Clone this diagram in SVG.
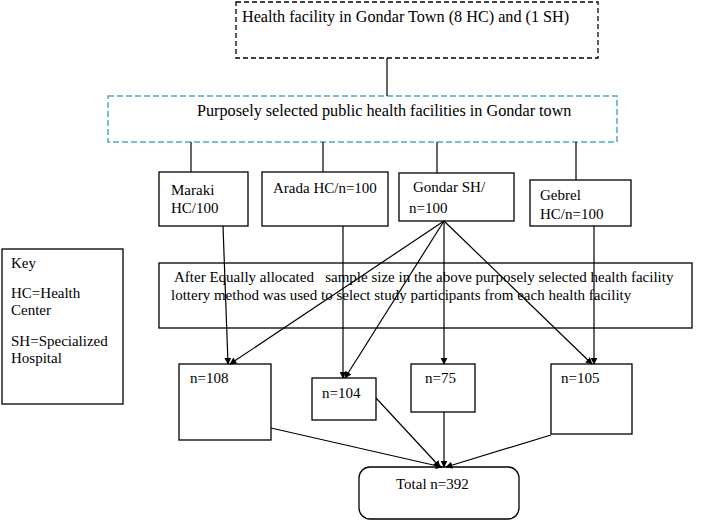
<svg xmlns="http://www.w3.org/2000/svg" width="709" height="520" viewBox="0 0 709 520">
<style>
text{font-family:"Liberation Serif","Times New Roman",serif;font-size:15px;fill:#000}
.big{font-size:16.2px}
.box{fill:#fff;stroke:#000;stroke-width:1.3}
.dash{fill:#fff;stroke:#000;stroke-width:1.3;stroke-dasharray:5,3}
.cyan{fill:#fff;stroke:#4BACC6;stroke-width:1.5;stroke-dasharray:6,3}
.ln{stroke:#000;stroke-width:1.2;fill:none}
.ar{stroke:#000;stroke-width:1.2;fill:none;marker-end:url(#ah)}
</style>
<defs>
<marker id="ah" viewBox="0 0 10 10" refX="9" refY="5" markerWidth="7" markerHeight="7" markerUnits="userSpaceOnUse" orient="auto">
<path d="M0,0 L10,5 L0,10 z" fill="#000"/>
</marker>
</defs>
<rect width="709" height="520" fill="#fff"/>
<g id="top"><rect class="dash" x="236" y="2" width="362" height="56"/><text class="big" x="242" y="22">Health facility in Gondar Town (8 HC) and (1 SH)</text></g>
<g id="purpose"><rect class="cyan" x="108" y="96" width="509" height="46"/><text class="big" x="197" y="116">Purposely selected public health facilities in Gondar town</text></g>
<g id="maraki"><rect class="box" x="159" y="172" width="89" height="54"/><text x="171" y="195">Maraki</text><text x="171" y="213">HC/100</text></g>
<g id="arada"><rect class="box" x="262" y="172" width="126" height="54"/><text x="273" y="193">Arada HC/n=100</text></g>
<g id="gondar"><rect class="box" x="399" y="173" width="115" height="48"/><text x="413" y="192">Gondar SH/</text><text x="409" y="213">n=100</text></g>
<g id="gebrel"><rect class="box" x="530" y="180" width="101" height="46"/><text x="540" y="200">Gebrel</text><text x="540" y="219">HC/n=100</text></g>
<g id="key"><rect class="box" x="2" y="249" width="121" height="155"/><text x="11" y="268">Key</text><text x="11" y="298">HC=Health</text><text x="11" y="315">Center</text><text x="11" y="346">SH=Specialized</text><text x="11" y="363">Hospital</text></g>
<g id="alloc"><rect class="box" x="159" y="263" width="533" height="65"/><text x="174" y="282" xml:space="preserve">After Equally allocated   sample size in the above purposely selected health facility</text><text x="171" y="300">lottery method was used to select study participants from each health facility</text></g>
<g id="n108"><rect class="box" x="179" y="364" width="92" height="76"/><text x="190" y="383">n=108</text></g>
<g id="n104"><rect class="box" x="312" y="378" width="64" height="42"/><text x="322" y="398">n=104</text></g>
<g id="n75"><rect class="box" x="411" y="364" width="64" height="48"/><text x="425" y="383">n=75</text></g>
<g id="n105"><rect class="box" x="551" y="364" width="81" height="70"/><text x="561" y="383">n=105</text></g>
<g id="total"><rect class="box" x="359" y="467" width="160" height="52" rx="11"/><text x="396" y="489">Total n=392</text></g>
<g id="connectors">
<line class="ln" x1="387" y1="58" x2="387" y2="96"/>
<line class="ln" x1="191" y1="142" x2="191" y2="172"/>
<line class="ln" x1="323" y1="142" x2="323" y2="172"/>
<line class="ln" x1="437" y1="142" x2="437" y2="173"/>
<line class="ln" x1="576" y1="142" x2="576" y2="180"/>
<line class="ar" x1="223" y1="226" x2="228" y2="364"/>
<line class="ar" x1="343" y1="226" x2="343" y2="378"/>
<line class="ar" x1="444" y1="221" x2="230" y2="364"/>
<line class="ar" x1="444" y1="221" x2="345" y2="378"/>
<line class="ar" x1="444" y1="221" x2="444" y2="364"/>
<line class="ar" x1="444" y1="221" x2="592" y2="364"/>
<line class="ar" x1="594" y1="226" x2="594" y2="364"/>
<line class="ar" x1="271" y1="428" x2="442" y2="467"/>
<line class="ar" x1="376" y1="398" x2="440" y2="467"/>
<line class="ar" x1="444" y1="412" x2="444" y2="467"/>
<line class="ar" x1="551" y1="435" x2="446" y2="467"/>
</g>
</svg>
